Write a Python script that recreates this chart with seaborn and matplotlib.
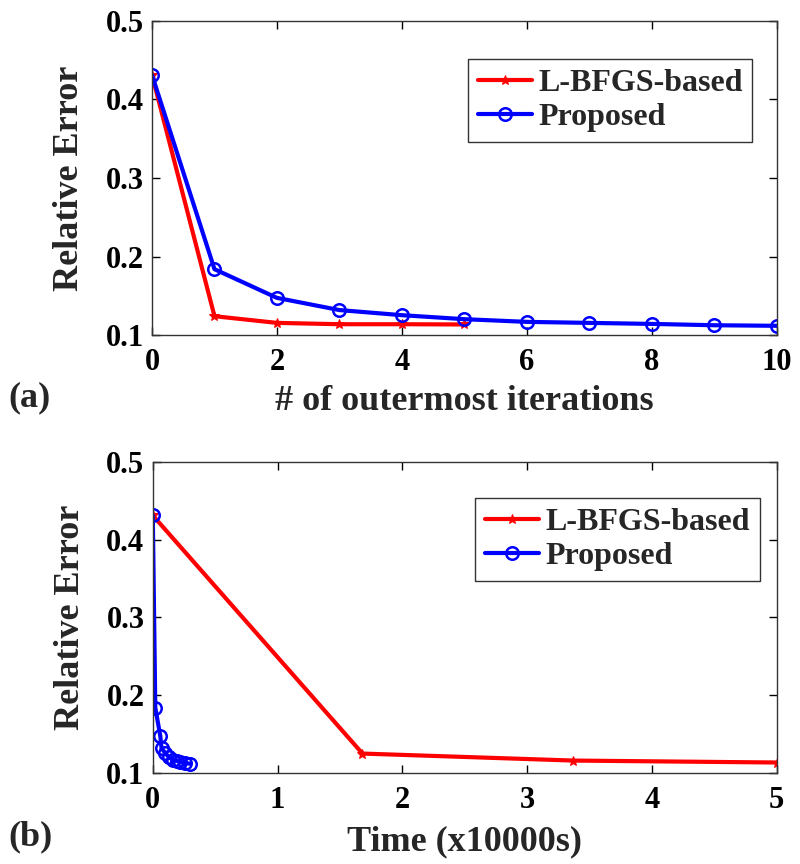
import matplotlib
matplotlib.use("Agg")
import matplotlib.pyplot as plt
import seaborn as sns

# ---- data ----
iters_lbfgs = [0, 1, 2, 3, 4, 5]
err_lbfgs = [0.431, 0.1242, 0.1157, 0.1140, 0.1140, 0.1137]
iters_prop = [0, 1, 2, 3, 4, 5, 6, 7, 8, 9, 10]
err_prop = [0.431, 0.184, 0.1475, 0.132, 0.1255, 0.1204, 0.117, 0.1157, 0.1144, 0.1127, 0.1120]

time_lbfgs = [0.0, 1.68, 3.37, 5.0]
terr_lbfgs = [0.431, 0.1250, 0.1160, 0.1135]
time_prop = [0.0, 0.02, 0.06, 0.07, 0.10, 0.13, 0.16, 0.19, 0.22, 0.26, 0.30]
terr_prop = err_prop

label_lbfgs = "L-BFGS-based"
label_prop = "Proposed"
yticks = [0.1, 0.2, 0.3, 0.4, 0.5]
ytick_labels = ['0.1', '0.2', '0.3', '0.4', '0.5']
xticks_iter = [0, 2, 4, 6, 8, 10]
xticks_time = [0, 1, 2, 3, 4, 5]

sns.set_style("ticks")
plt.rcParams['font.family'] = ['Liberation Serif', 'DejaVu Serif']
plt.rcParams['font.weight'] = 'bold'
plt.rcParams['axes.labelweight'] = 'bold'
plt.rcParams['axes.linewidth'] = 1.0

fig = plt.figure(figsize=(8, 8.64), dpi=100)
ax1 = fig.add_axes([0.19, 0.612, 0.781, 0.364])
ax2 = fig.add_axes([0.191, 0.1053, 0.780, 0.3603])

red = '#ff0000'
blue = '#0000ff'

def draw(ax, xr, yr, xb, yb):
    sns.lineplot(x=xr, y=yr, ax=ax, color=red, linewidth=3.0, marker='*',
                 markersize=7, markeredgecolor=red, markerfacecolor=red,
                 label=label_lbfgs, sort=False, estimator=None)
    sns.lineplot(x=xb, y=yb, ax=ax, color=blue, linewidth=3.0, marker='o',
                 markersize=9, markeredgecolor=blue, markerfacecolor='none',
                 markeredgewidth=1.8, label=label_prop, sort=False, estimator=None)

draw(ax1, iters_lbfgs, err_lbfgs, iters_prop, err_prop)
draw(ax2, time_lbfgs, terr_lbfgs, time_prop, terr_prop)

for ax in (ax1, ax2):
    ax.set_ylim(0.1, 0.5)
    ax.set_yticks(yticks)
    ax.set_yticklabels(ytick_labels)
    ax.tick_params(axis='both', which='both', top=True, right=True,
                   direction='in', length=6, width=1, labelsize=22, colors='black')
    ax.tick_params(axis='x', pad=9)
    ax.tick_params(axis='y', pad=6)
    for lab in ax.get_xticklabels() + ax.get_yticklabels():
        lab.set_fontweight('bold')
    for sp in ax.spines.values():
        sp.set_visible(True)
        sp.set_color('#333333')
    ax.set_ylabel('Relative Error', fontsize=26, fontweight='bold', labelpad=14)

ax1.set_xlim(0, 10)
ax1.set_xticks(xticks_iter)
ax1.set_xlabel('# of outermost iterations', fontsize=26, fontweight='bold', labelpad=6)
ax2.set_xlim(0, 5)
ax2.set_xticks(xticks_time)
ax2.set_xlabel('Time (x10000s)', fontsize=26, fontweight='bold', labelpad=8)

leg_kw = dict(loc='upper left', fontsize=23, frameon=True, fancybox=False,
              edgecolor='black', handlelength=1.7, borderpad=0.3,
              labelspacing=0.15, handletextpad=0.2, borderaxespad=0.0,
              bbox_transform=fig.transFigure)
leg1 = ax1.legend(bbox_to_anchor=(0.585, 0.9317), **leg_kw)
leg2 = ax2.legend(bbox_to_anchor=(0.594, 0.4236), **leg_kw)
for leg in (leg1, leg2):
    leg.get_frame().set_linewidth(1.0)
    for t in leg.get_texts():
        t.set_fontweight('bold')

fig.text(0.01, 0.540, '(a)', fontsize=26, fontweight='bold', va='center', ha='left')
fig.text(0.01, 0.0310, '(b)', fontsize=26, fontweight='bold', va='center', ha='left')

fig.savefig('out.png', dpi=100)
